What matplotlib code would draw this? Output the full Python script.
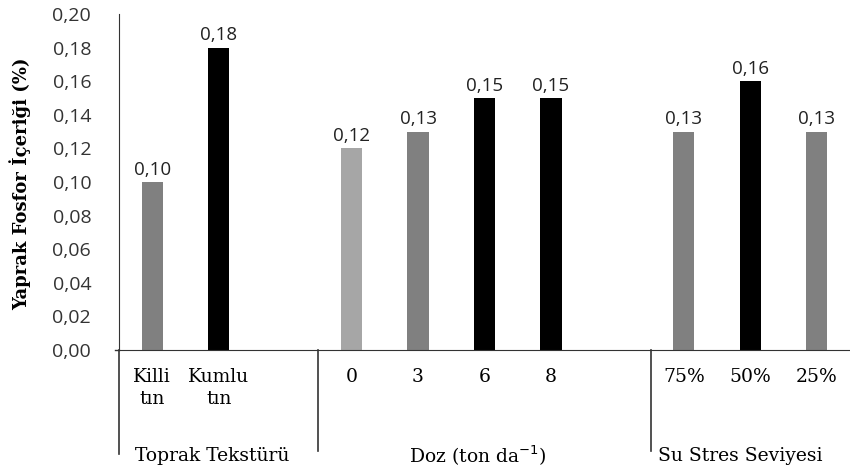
import matplotlib
matplotlib.use("Agg")
import matplotlib.pyplot as plt
from matplotlib.ticker import FuncFormatter

categories = ["Killi\ntın", "Kumlu\ntın", "", "0", "3", "6", "8", "", "75%", "50%", "25%"]
values = [0.10, 0.18, None, 0.12, 0.13, 0.15, 0.15, None, 0.13, 0.16, 0.13]
colors = ["#808080", "#000000", None, "#A6A6A6", "#808080", "#000000", "#000000", None,
          "#808080", "#000000", "#808080"]
groups = ["Toprak Tekstürü", "Doz (ton da$^{-1}$)", "Su Stres Seviyesi"]
group_centers = [0.9, 4.9, 8.85]
y_ticks = [0.00, 0.02, 0.04, 0.06, 0.08, 0.10, 0.12, 0.14, 0.16, 0.18, 0.20]
y_label = "Yaprak Fosfor İçeriği (%)"

serif = ["DejaVu Serif"]
sans = ["Open Sans", "DejaVu Sans"]

fig = plt.figure(figsize=(8.5, 4.72), dpi=100)
ax = fig.add_axes([119/850, (472-350)/472, 731/850, 336/472])

xs = list(range(len(categories)))
for x, v, c in zip(xs, values, colors):
    if v is None:
        continue
    ax.bar(x, v, width=0.32, color=c)
    ax.text(x, v + 0.002, f"{v:.2f}".replace(".", ","), ha="center", va="bottom",
            fontsize=13.5, family=sans, color="#222222")

ax.set_xlim(-0.5, len(categories) - 0.5)
ax.set_ylim(0, 0.20)
ax.set_yticks(y_ticks)
ax.yaxis.set_major_formatter(FuncFormatter(lambda v, p: f"{v:.2f}".replace(".", ",")))
for lab in ax.get_yticklabels():
    lab.set_family(sans)
    lab.set_fontsize(14)
    lab.set_color("#333333")
ax.tick_params(axis="y", length=0, pad=20)
ax.set_xticks([])
for s in ["top", "right"]:
    ax.spines[s].set_visible(False)
ax.spines["left"].set_color("#333333")
ax.spines["bottom"].set_color("#333333")

trans = ax.get_xaxis_transform()
for x, c in zip(xs, categories):
    if c:
        ax.text(x, -0.055, c, transform=trans, ha="center", va="top", fontsize=13.5,
                family=serif, linespacing=1.25)
ax.plot([-0.5, -0.5], [0, -0.31], transform=trans, color="#333333", lw=1.2, clip_on=False)
ax.plot([-0.56, -0.5], [0, 0], transform=trans, color="#333333", lw=1.0, clip_on=False)
for sx in [2.5, 7.5]:
    ax.plot([sx, sx], [0, -0.30], transform=trans, color="#333333", lw=1.2, clip_on=False)
for g, gx in zip(groups, group_centers):
    ax.text(gx, -0.315, g, transform=trans, ha="center", va="center",
            fontsize=13.5, family=serif)

fig.text(0.024, (472-184)/472, y_label, rotation=90, ha="center", va="center",
         fontsize=13, fontweight="bold", family=serif)

fig.savefig("out.png", dpi=100)
